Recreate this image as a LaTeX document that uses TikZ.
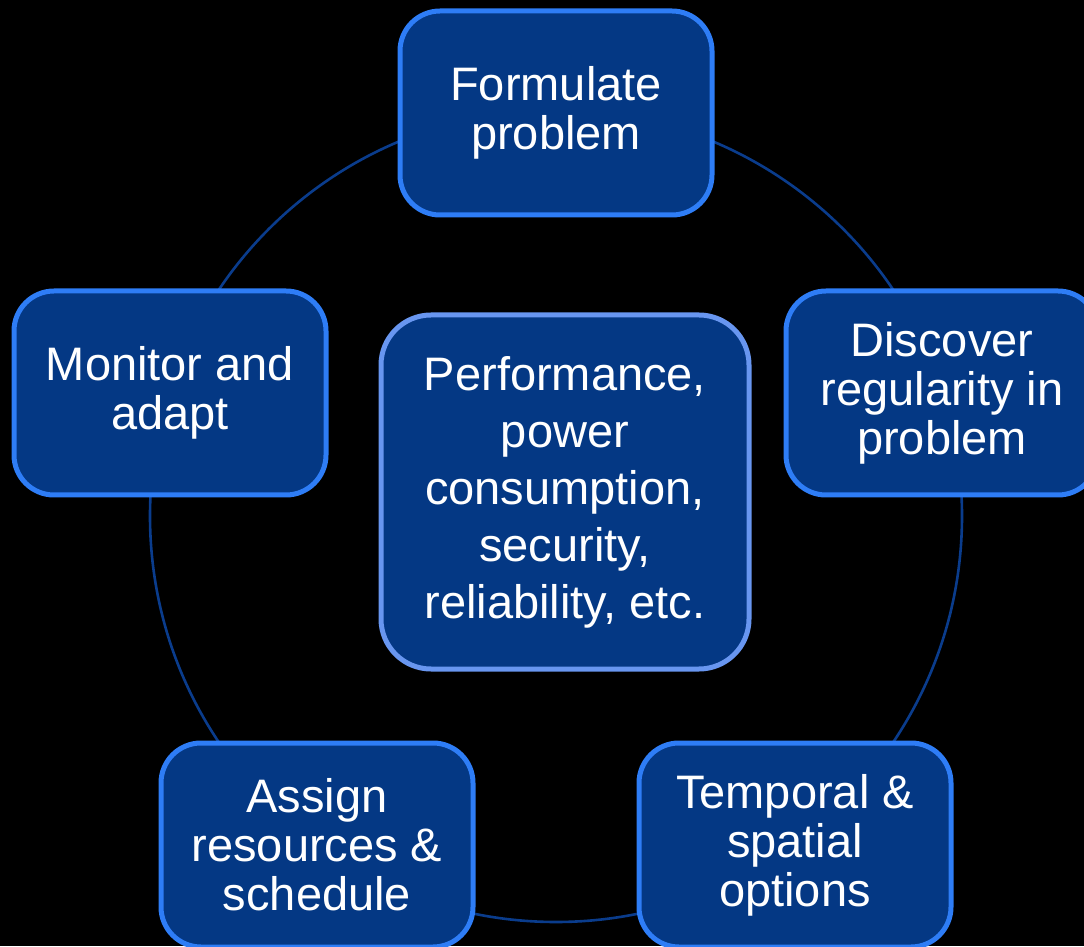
\documentclass[tikz,border=0pt]{standalone}
\usepackage{fontspec}
\setmainfont{Liberation Sans}
\usepackage{tikz}
\usetikzlibrary{calc}

\definecolor{boxfill}{RGB}{4,56,132}
\definecolor{boxrim}{RGB}{46,125,246}
\definecolor{hubrim}{RGB}{104,150,240}
\definecolor{ringline}{RGB}{10,60,140}

\begin{document}
\begin{tikzpicture}[x=1pt,y=1pt,inner sep=0pt,outer sep=0pt,
	stage/.style={rectangle, rounded corners=40pt, draw=boxrim, line width=5pt, fill=boxfill, text=white, align=center, minimum width=312pt, minimum height=204pt, font=\fontsize{47}{49}\selectfont},
	hub/.style={stage, draw=hubrim, rounded corners=50pt, minimum width=368pt, minimum height=354pt, font=\fontsize{47}{57}\selectfont}]
	\fill[black] (0,0) rectangle (1084,946);
	\useasboundingbox (0,0) rectangle (1084,946);
	
	\coordinate (c) at (556,430);
	\draw[ringline, line width=2.6pt] (c) circle (406pt);
	
	\node[stage] at (556,833) (formulate) {Formulate\\problem};
	\node[stage] at (942,553) (discover) {Discover\\regularity in\\problem};
	\node[stage] at (795,101) (options) {Temporal \&\\spatial\\options};
	\node[stage] at (317,101) (assign) {Assign\\resources \&\\schedule};
	\node[stage] at (170,553) (monitor) {Monitor and\\adapt};
	
	\node[hub] at (565,454) (goals) {Performance,\\power\\consumption,\\security,\\reliability, etc.};
\end{tikzpicture}
\end{document}
